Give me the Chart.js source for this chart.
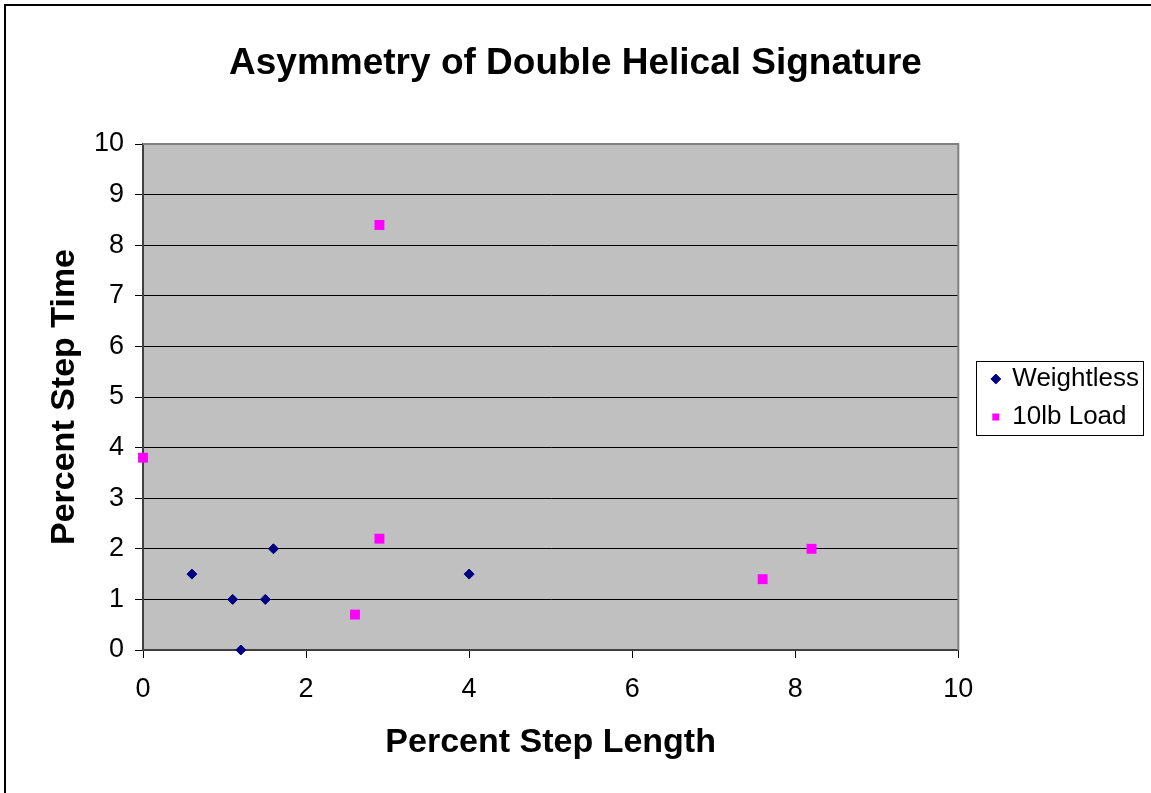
<!DOCTYPE html>
<html>
<head>
<meta charset="utf-8">
<title>Asymmetry of Double Helical Signature</title>
<script src="https://cdn.jsdelivr.net/npm/chart.js@4/dist/chart.umd.min.js"></script>
<style>
  html, body { margin: 0; padding: 0; background: #fff; }
  #wrap { width: 1151px; height: 793px; }
</style>
</head>
<body>
<div id="wrap"><canvas id="chart" width="1151" height="793"></canvas></div>
<script>
// ---- data ----
const weightlessX = [0.6, 1.1, 1.2, 1.5, 1.6, 4.0];
const weightlessY = [1.5, 1.0, 0.0, 1.0, 2.0, 1.5];
const loadX = [0.0, 2.9, 2.9, 2.6, 7.6, 8.2];
const loadY = [3.8, 8.4, 2.2, 0.7, 1.4, 2.0];
const xTicks = [0, 2, 4, 6, 8, 10];
const yTicks = [0, 1, 2, 3, 4, 5, 6, 7, 8, 9, 10];

const FONT = "Arial, 'Liberation Sans', sans-serif";
const LEGEND_EXTRA = 24; // extra width given to the legend box
const LEGEND_SHIFT = 22; // empty space between plot and legend items

function toPoints(xs, ys) {
    return xs.map((x, i) => ({ x: x, y: ys[i] }));
}

// gray plot area, plot frame, outer border, legend frame
const excelLook = {
    id: "excelLook",
    beforeLayout(chart) {
        // make the legend box wider so the plot stops short of it
        const lg = chart.legend;
        if (lg && !lg._wide) {
            const fit = lg.fit.bind(lg);
            lg.fit = function () { fit(); this.width += LEGEND_EXTRA; };
            lg._wide = true;
        }
    },
    afterLayout(chart) {
        chart.legend.left += LEGEND_SHIFT;
        chart.legend.top += 3;
    },
    beforeDraw(chart) {
        const { ctx, chartArea: a } = chart;
        ctx.save();
        ctx.fillStyle = "#c0c0c0";
        ctx.fillRect(a.left, a.top, a.right - a.left, a.bottom - a.top);
        ctx.restore();
    },
    afterDraw(chart) {
        const { ctx, chartArea: a } = chart;
        ctx.save();
        // top and right edges of the plot area
        ctx.strokeStyle = "#808080";
        ctx.lineWidth = 2;
        ctx.beginPath();
        ctx.moveTo(a.left, a.top);
        ctx.lineTo(a.right, a.top);
        ctx.lineTo(a.right, a.bottom);
        ctx.stroke();
        // outer chart border (runs off the right and bottom)
        ctx.strokeStyle = "#000";
        ctx.lineWidth = 2;
        ctx.strokeRect(5, 5, chart.width + 20, chart.height + 20);
        // frame round the legend
        const boxes = chart.legend.legendHitBoxes;
        if (boxes && boxes.length) {
            const l = Math.min(...boxes.map(b => b.left)) - 16;
            const t = Math.min(...boxes.map(b => b.top)) - 5;
            const r = Math.max(...boxes.map(b => b.left + b.width)) + 4;
            const btm = Math.max(...boxes.map(b => b.top + b.height)) + 5;
            ctx.strokeStyle = "#000";
            ctx.lineWidth = 1;
            ctx.strokeRect(Math.round(l) + 0.5, Math.round(t) + 0.5, Math.round(r - l), Math.round(btm - t));
        }
        ctx.restore();
    }
};

new Chart(document.getElementById("chart"), {
    type: "scatter",
    data: {
        datasets: [
            {
                label: "Weightless",
                data: toPoints(weightlessX, weightlessY),
                pointStyle: "rectRot",
                pointRadius: 5,
                pointHoverRadius: 5,
                borderWidth: 1,
                borderColor: "#000080",
                backgroundColor: "#000080",
                clip: false
            },
            {
                label: "10lb Load",
                data: toPoints(loadX, loadY),
                pointStyle: "rect",
                pointRadius: 7,
                pointHoverRadius: 7,
                borderWidth: 0,
                borderColor: "#ff00ff",
                backgroundColor: "#ff00ff",
                clip: false
            }
        ]
    },
    options: {
        responsive: false,
        animation: false,
        events: [],
        layout: { padding: { left: 0, right: 0, top: 0, bottom: 0 } },
        plugins: {
            title: {
                display: true,
                text: "Asymmetry of Double Helical Signature",
                color: "#000",
                font: { family: FONT, size: 37, weight: "bold" },
                padding: { top: 42, bottom: 57.6 }
            },
            legend: {
                position: "right",
                labels: {
                    color: "#000",
                    font: { family: FONT, size: 26 },
                    usePointStyle: true,
                    boxWidth: 7,
                    boxHeight: 7,
                    padding: 12
                }
            },
            tooltip: { enabled: false }
        },
        scales: {
            x: {
                type: "linear",
                min: 0,
                max: 10,
                afterBuildTicks: s => { s.ticks = xTicks.map(v => ({ value: v })); },
                afterFit: s => { s.height = 143; },
                grid: {
                    display: true,
                    drawOnChartArea: false,
                    drawTicks: true,
                    tickLength: 8,
                    color: "#000"
                },
                border: { display: true, color: "#404040", width: 2 },
                ticks: {
                    color: "#000",
                    font: { family: FONT, size: 27 },
                    padding: 15,
                    maxRotation: 0
                },
                title: {
                    display: true,
                    text: "Percent Step Length",
                    color: "#000",
                    font: { family: FONT, size: 34, weight: "bold" },
                    padding: { top: 0, bottom: 29.6 }
                }
            },
            y: {
                type: "linear",
                min: 0,
                max: 10,
                afterBuildTicks: s => { s.ticks = yTicks.map(v => ({ value: v })); },
                afterFit: s => { s.width = 143; },
                grid: {
                    display: true,
                    drawTicks: true,
                    tickLength: 8,
                    color: "#000",
                    lineWidth: 1
                },
                border: { display: true, color: "#404040", width: 2 },
                ticks: {
                    color: "#000",
                    font: { family: FONT, size: 27 },
                    padding: 11
                },
                title: {
                    display: true,
                    text: "Percent Step Time",
                    color: "#000",
                    font: { family: FONT, size: 34, weight: "bold" },
                    padding: { top: 44.6, bottom: 0 }
                }
            }
        }
    },
    plugins: [excelLook]
});
</script>
</body>
</html>
